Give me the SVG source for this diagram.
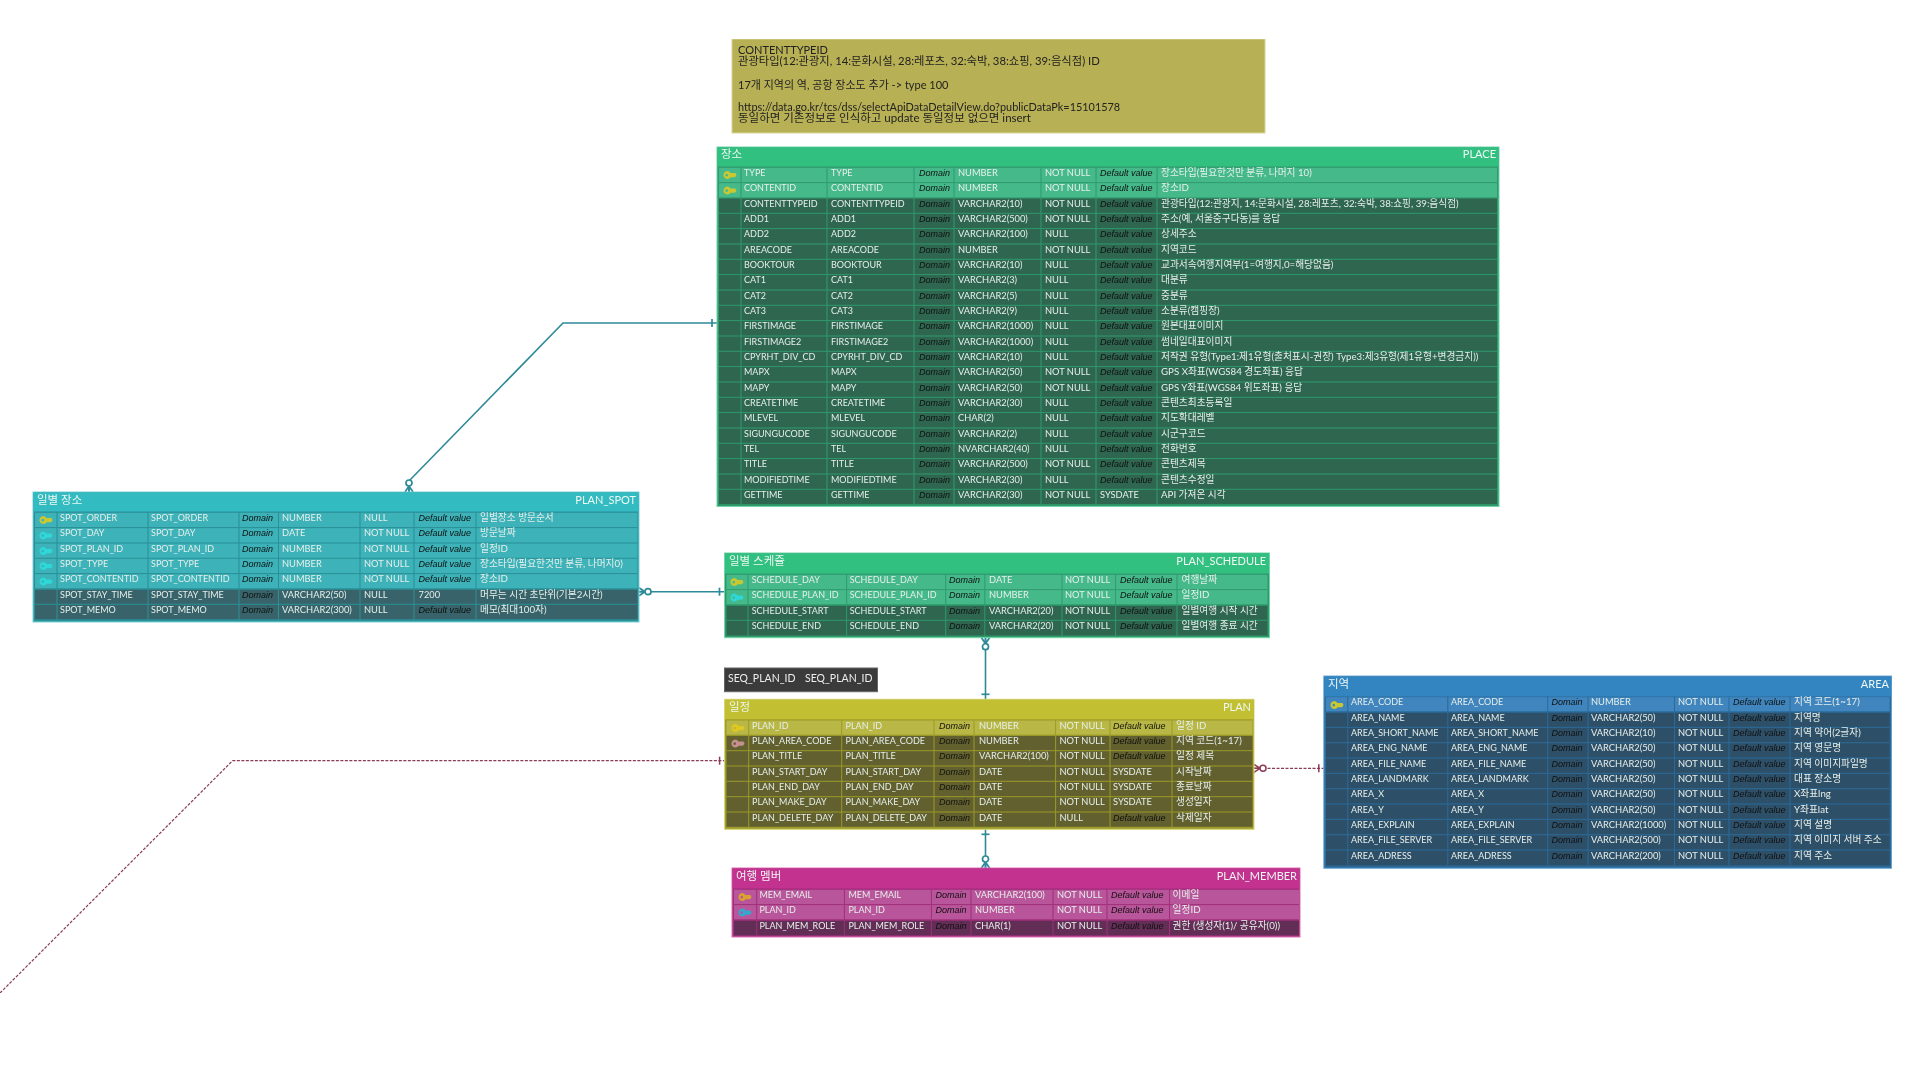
<svg xmlns="http://www.w3.org/2000/svg" xmlns:xlink="http://www.w3.org/1999/xlink" width="1920" height="1080" viewBox="0 0 1920 1080">
<style>
text{font-family:Lato,"Noto Sans CJK KR",sans-serif;font-size:9.300px;fill:#e6efeb}
g[transform]>text:nth-child(-n+2){font-size:9px}
g[transform]>text:nth-child(7){font-size:9.700px}
text.d{font-style:italic;font-size:9px;fill:#111;font-family:"Liberation Sans","Noto Sans CJK KR",sans-serif}
text.h{font-size:11.500px;fill:#eef7f3}
text.h.e{text-anchor:end;font-size:11px}
text.note{font-size:11px;fill:#222}
text.n2{font-size:11.300px}
text.n3{font-size:10.900px}
text.n4{font-size:11.500px}
text.seq{font-size:10.500px;fill:#eee}
.tg .b{fill:#2f9a6c;stroke:#72d6a8;stroke-width:1}.tg .hd{fill:#33c081}.tg .p{fill:#45b98a}.tg .x{fill:#2f6650}.tg .s{stroke:#2f9a6c}
.tc .b{fill:#2a8f96;stroke:#7ad6da;stroke-width:1}.tc .hd{fill:#33bcc1}.tc .p{fill:#3cb2b8}.tc .x{fill:#37646a}.tc .s{stroke:#2a8f96}
.ty .b{fill:#9b9a2a;stroke:#d8d670;stroke-width:1}.ty .hd{fill:#c2c032}.ty .p{fill:#b9b846}.ty .x{fill:#62612f}.ty .s{stroke:#9b9a2a}
.tm .b{fill:#a02f7a;stroke:#e070b8;stroke-width:1}.tm .hd{fill:#c2308e}.tm .p{fill:#b9559a}.tm .x{fill:#622f56}.tm .s{stroke:#a02f7a}
.tb .b{fill:#2a6a9a;stroke:#70acd8;stroke-width:1}.tb .hd{fill:#3385c1}.tb .p{fill:#3f85bd}.tb .x{fill:#2f5068}.tb .s{stroke:#2a6a9a}
.s{fill:none;stroke-width:1}
.ky{fill:#c8c832}.kc{fill:#2fd8d8}.kp{fill:#c49090}.ko{fill:#d9a030}.kl{fill:#35a8d0}.kg{fill:#e0c820}
.c{fill:none;stroke-width:1.600}.teal{stroke:#2f8a98}.mar{stroke:#8a3a55;stroke-width:1.200;stroke-dasharray:3 1.500}
</style>
<defs>
<filter id="soft" x="0" y="0" width="100%" height="100%" filterUnits="objectBoundingBox"><feGaussianBlur stdDeviation="0.500"/></filter>
<g id="k"><path fill-rule="evenodd" d="M4 0a4 4 0 0 1 3.500 2H12.500L13.500 4.300 12 6.300H7.700A4 4 0 1 1 4 0zM3.700 2.800a1.300 1.300 0 1 0 .01 0z"/></g>
<marker id="mt" markerUnits="userSpaceOnUse" markerWidth="20" markerHeight="14" refX="0" refY="7" orient="auto" overflow="visible"><path d="M0 3L6 7L0 11M0 7H6" fill="none" stroke="#2f8a98" stroke-width="1.700"/><circle cx="9" cy="7" r="3" fill="#fff" stroke="#2f8a98" stroke-width="1.700"/></marker>
<marker id="bt" markerUnits="userSpaceOnUse" markerWidth="14" markerHeight="14" refX="10" refY="7" orient="auto" overflow="visible"><path d="M5 3V11" fill="none" stroke="#2f8a98" stroke-width="1.700"/></marker>
<marker id="mm" markerUnits="userSpaceOnUse" markerWidth="20" markerHeight="14" refX="0" refY="7" orient="auto" overflow="visible"><path d="M0 3L6 7L0 11M0 7H6" fill="none" stroke="#8a3a55" stroke-width="1.500"/><circle cx="9" cy="7" r="3" fill="#fff" stroke="#8a3a55" stroke-width="1.500"/></marker>
<marker id="bm" markerUnits="userSpaceOnUse" markerWidth="14" markerHeight="14" refX="10" refY="7" orient="auto" overflow="visible"><path d="M5 3V11" fill="none" stroke="#8a3a55" stroke-width="1.500"/></marker>
</defs>
<rect width="1920" height="1080" fill="#fff"/>
<g filter="url(#soft)">
<g id="connectors">
<path class="c teal" d="M409 492V481L563 323H717" marker-start="url(#mt)" marker-end="url(#bt)"/>
<path class="c teal" d="M639 591.700H724.500" marker-start="url(#mt)" marker-end="url(#bt)"/>
<path class="c teal" d="M985.500 637.700V699.300" marker-start="url(#mt)" marker-end="url(#bt)"/>
<path class="c teal" d="M985.500 868V829.300" marker-start="url(#mt)" marker-end="url(#bt)"/>
<path class="c mar" d="M1254 768.300H1323.800" marker-start="url(#mm)" marker-end="url(#bm)"/>
<path class="c mar" d="M0 993L232.600 760.700H724.600" marker-end="url(#bm)"/>
</g>
<g id="note">
<rect x="732" y="39" width="533" height="94" fill="#b8b055" stroke="#d8d49a" stroke-width="1"/>
<text class="note" x="738" y="54">CONTENTTYPEID</text>
<text class="note n2" x="738" y="65">관광타입(12:관광지, 14:문화시설, 28:레포츠, 32:숙박, 38:쇼핑, 39:음식점) ID</text>
<text class="note" x="738" y="89">17개 지역의 역, 공항 장소도 추가 -> type 100</text>
<text class="note n3" x="738" y="111">https://data.go.kr/tcs/dss/selectApiDataDetailView.do?publicDataPk=15101578</text>
<text class="note n4" x="738" y="122">동일하면 기존정보로 인식하고 update 동일정보 없으면 insert</text>
</g>
<g id="PLACE" class="tg">
<rect class="b" x="717" y="147" width="782" height="359.500"/><rect class="hd" x="717.500" y="147.500" width="781" height="19"/>
<text class="h" x="721" y="158">장소</text><text class="h e" x="1496" y="158">PLACE</text>
<g><rect class="p" x="719" y="167.800" width="778" height="14.300"/><rect class="p" x="719" y="183.100" width="778" height="14.300"/>
<rect class="x" x="719" y="198.500" width="778" height="305.600"/></g>
<path class="s" d="M719 213.300H1497M719 228.600H1497M719 244H1497M719 259.300H1497M719 274.600H1497M719 290H1497M719 305.300H1497M719 320.600H1497M719 336H1497M719 351.300H1497M719 366.600H1497M719 382H1497M719 397.300H1497M719 412.600H1497M719 428H1497M719 443.300H1497M719 458.600H1497M719 474H1497M719 489.300H1497M741 167V504M827 167V504M914 167V504M954 167V504M1041 167V504M1096 167V504M1157 167V504"/>
<use xlink:href="#k" href="#k" class="ky" x="723" y="171"/><use xlink:href="#k" href="#k" class="ky" x="723" y="186.500"/>
<g transform="translate(0,175.800)"><text x="744">TYPE</text><text x="831">TYPE</text><text class="d" x="919">Domain</text><text x="958">NUMBER</text><text x="1045">NOT NULL</text><text class="d" x="1100">Default value</text><text x="1161">장소타입(필요한것만 분류, 나머지 10)</text></g>
<g transform="translate(0,191.100)"><text x="744">CONTENTID</text><text x="831">CONTENTID</text><text class="d" x="919">Domain</text><text x="958">NUMBER</text><text x="1045">NOT NULL</text><text class="d" x="1100">Default value</text><text x="1161">장소ID</text></g>
<g transform="translate(0,206.500)"><text x="744">CONTENTTYPEID</text><text x="831">CONTENTTYPEID</text><text class="d" x="919">Domain</text><text x="958">VARCHAR2(10)</text><text x="1045">NOT NULL</text><text class="d" x="1100">Default value</text><text x="1161">관광타입(12:관광지, 14:문화시설, 28:레포츠, 32:숙박, 38:쇼핑, 39:음식점)</text></g>
<g transform="translate(0,221.800)"><text x="744">ADD1</text><text x="831">ADD1</text><text class="d" x="919">Domain</text><text x="958">VARCHAR2(500)</text><text x="1045">NOT NULL</text><text class="d" x="1100">Default value</text><text x="1161">주소(예, 서울중구다동)를 응답</text></g>
<g transform="translate(0,237.100)"><text x="744">ADD2</text><text x="831">ADD2</text><text class="d" x="919">Domain</text><text x="958">VARCHAR2(100)</text><text x="1045">NULL</text><text class="d" x="1100">Default value</text><text x="1161">상세주소</text></g>
<g transform="translate(0,252.500)"><text x="744">AREACODE</text><text x="831">AREACODE</text><text class="d" x="919">Domain</text><text x="958">NUMBER</text><text x="1045">NOT NULL</text><text class="d" x="1100">Default value</text><text x="1161">지역코드</text></g>
<g transform="translate(0,267.800)"><text x="744">BOOKTOUR</text><text x="831">BOOKTOUR</text><text class="d" x="919">Domain</text><text x="958">VARCHAR2(10)</text><text x="1045">NULL</text><text class="d" x="1100">Default value</text><text x="1161">교과서속여행지여부(1=여행지,0=해당없음)</text></g>
<g transform="translate(0,283.100)"><text x="744">CAT1</text><text x="831">CAT1</text><text class="d" x="919">Domain</text><text x="958">VARCHAR2(3)</text><text x="1045">NULL</text><text class="d" x="1100">Default value</text><text x="1161">대분류</text></g>
<g transform="translate(0,298.500)"><text x="744">CAT2</text><text x="831">CAT2</text><text class="d" x="919">Domain</text><text x="958">VARCHAR2(5)</text><text x="1045">NULL</text><text class="d" x="1100">Default value</text><text x="1161">중분류</text></g>
<g transform="translate(0,313.800)"><text x="744">CAT3</text><text x="831">CAT3</text><text class="d" x="919">Domain</text><text x="958">VARCHAR2(9)</text><text x="1045">NULL</text><text class="d" x="1100">Default value</text><text x="1161">소분류(캠핑장)</text></g>
<g transform="translate(0,329.100)"><text x="744">FIRSTIMAGE</text><text x="831">FIRSTIMAGE</text><text class="d" x="919">Domain</text><text x="958">VARCHAR2(1000)</text><text x="1045">NULL</text><text class="d" x="1100">Default value</text><text x="1161">원본대표이미지</text></g>
<g transform="translate(0,344.500)"><text x="744">FIRSTIMAGE2</text><text x="831">FIRSTIMAGE2</text><text class="d" x="919">Domain</text><text x="958">VARCHAR2(1000)</text><text x="1045">NULL</text><text class="d" x="1100">Default value</text><text x="1161">썸네일대표이미지</text></g>
<g transform="translate(0,359.800)"><text x="744">CPYRHT_DIV_CD</text><text x="831">CPYRHT_DIV_CD</text><text class="d" x="919">Domain</text><text x="958">VARCHAR2(10)</text><text x="1045">NULL</text><text class="d" x="1100">Default value</text><text x="1161">저작권 유형(Type1:제1유형(출처표시-권장) Type3:제3유형(제1유형+변경금지))</text></g>
<g transform="translate(0,375.100)"><text x="744">MAPX</text><text x="831">MAPX</text><text class="d" x="919">Domain</text><text x="958">VARCHAR2(50)</text><text x="1045">NOT NULL</text><text class="d" x="1100">Default value</text><text x="1161">GPS X좌표(WGS84 경도좌표) 응답</text></g>
<g transform="translate(0,390.500)"><text x="744">MAPY</text><text x="831">MAPY</text><text class="d" x="919">Domain</text><text x="958">VARCHAR2(50)</text><text x="1045">NOT NULL</text><text class="d" x="1100">Default value</text><text x="1161">GPS Y좌표(WGS84 위도좌표) 응답</text></g>
<g transform="translate(0,405.800)"><text x="744">CREATETIME</text><text x="831">CREATETIME</text><text class="d" x="919">Domain</text><text x="958">VARCHAR2(30)</text><text x="1045">NULL</text><text class="d" x="1100">Default value</text><text x="1161">콘텐츠최초등록일</text></g>
<g transform="translate(0,421.100)"><text x="744">MLEVEL</text><text x="831">MLEVEL</text><text class="d" x="919">Domain</text><text x="958">CHAR(2)</text><text x="1045">NULL</text><text class="d" x="1100">Default value</text><text x="1161">지도확대레벨</text></g>
<g transform="translate(0,436.500)"><text x="744">SIGUNGUCODE</text><text x="831">SIGUNGUCODE</text><text class="d" x="919">Domain</text><text x="958">VARCHAR2(2)</text><text x="1045">NULL</text><text class="d" x="1100">Default value</text><text x="1161">시군구코드</text></g>
<g transform="translate(0,451.800)"><text x="744">TEL</text><text x="831">TEL</text><text class="d" x="919">Domain</text><text x="958">NVARCHAR2(40)</text><text x="1045">NULL</text><text class="d" x="1100">Default value</text><text x="1161">전화번호</text></g>
<g transform="translate(0,467.100)"><text x="744">TITLE</text><text x="831">TITLE</text><text class="d" x="919">Domain</text><text x="958">VARCHAR2(500)</text><text x="1045">NOT NULL</text><text class="d" x="1100">Default value</text><text x="1161">콘텐츠제목</text></g>
<g transform="translate(0,482.500)"><text x="744">MODIFIEDTIME</text><text x="831">MODIFIEDTIME</text><text class="d" x="919">Domain</text><text x="958">VARCHAR2(30)</text><text x="1045">NULL</text><text class="d" x="1100">Default value</text><text x="1161">콘텐츠수정일</text></g>
<g transform="translate(0,497.800)"><text x="744">GETTIME</text><text x="831">GETTIME</text><text class="d" x="919">Domain</text><text x="958">VARCHAR2(30)</text><text x="1045">NOT NULL</text><text x="1100">SYSDATE</text><text x="1161">API 가져온 시각</text></g>
</g>
<g id="PLAN_SPOT" class="tc">
<rect class="b" x="33" y="492" width="606" height="130"/><rect class="hd" x="33.500" y="492.500" width="605" height="19"/>
<text class="h" x="37" y="504">일별 장소</text><text class="h e" x="636" y="504">PLAN_SPOT</text>
<rect class="p" x="35" y="512.800" width="602.500" height="75.700"/><rect class="x" x="35" y="589.500" width="602.500" height="29.700"/>
<path class="s" d="M35 527.600H637.500M35 543H637.500M35 558.300H637.500M35 573.600H637.500M35 589H637.500M35 604.300H637.500M57 512V620M148 512V620M239 512V620M278.500 512V620M360 512V620M414 512V620M476 512V620"/>
<use xlink:href="#k" href="#k" class="ky" x="39" y="516"/><use xlink:href="#k" href="#k" class="kc" x="39" y="531.500"/><use xlink:href="#k" href="#k" class="kc" x="39" y="547"/><use xlink:href="#k" href="#k" class="kc" x="39" y="562"/><use xlink:href="#k" href="#k" class="kc" x="39" y="577.500"/>
<g transform="translate(0,520.800)"><text x="60">SPOT_ORDER</text><text x="151">SPOT_ORDER</text><text class="d" x="242">Domain</text><text x="282">NUMBER</text><text x="364">NULL</text><text class="d" x="418.500">Default value</text><text x="480">일별장소 방문순서</text></g>
<g transform="translate(0,536.100)"><text x="60">SPOT_DAY</text><text x="151">SPOT_DAY</text><text class="d" x="242">Domain</text><text x="282">DATE</text><text x="364">NOT NULL</text><text class="d" x="418.500">Default value</text><text x="480">방문날짜</text></g>
<g transform="translate(0,551.500)"><text x="60">SPOT_PLAN_ID</text><text x="151">SPOT_PLAN_ID</text><text class="d" x="242">Domain</text><text x="282">NUMBER</text><text x="364">NOT NULL</text><text class="d" x="418.500">Default value</text><text x="480">일정ID</text></g>
<g transform="translate(0,566.800)"><text x="60">SPOT_TYPE</text><text x="151">SPOT_TYPE</text><text class="d" x="242">Domain</text><text x="282">NUMBER</text><text x="364">NOT NULL</text><text class="d" x="418.500">Default value</text><text x="480">장소타입(필요한것만 분류, 나머지0)</text></g>
<g transform="translate(0,582.100)"><text x="60">SPOT_CONTENTID</text><text x="151">SPOT_CONTENTID</text><text class="d" x="242">Domain</text><text x="282">NUMBER</text><text x="364">NOT NULL</text><text class="d" x="418.500">Default value</text><text x="480">장소ID</text></g>
<g transform="translate(0,597.500)"><text x="60">SPOT_STAY_TIME</text><text x="151">SPOT_STAY_TIME</text><text class="d" x="242">Domain</text><text x="282">VARCHAR2(50)</text><text x="364">NULL</text><text x="418.500">7200</text><text x="480">머무는 시간 초단위(기본2시간)</text></g>
<g transform="translate(0,612.800)"><text x="60">SPOT_MEMO</text><text x="151">SPOT_MEMO</text><text class="d" x="242">Domain</text><text x="282">VARCHAR2(300)</text><text x="364">NULL</text><text class="d" x="418.500">Default value</text><text x="480">메모(최대100자)</text></g>
</g>
<g id="PLAN_SCHEDULE" class="tg">
<rect class="b" x="724.500" y="553" width="545" height="84.700"/><rect class="hd" x="725" y="553.500" width="544" height="20"/>
<text class="h" x="729" y="565">일별 스케쥴</text><text class="h e" x="1266" y="565">PLAN_SCHEDULE</text>
<rect class="p" x="726.500" y="574.800" width="541" height="29.700"/><rect class="x" x="726.500" y="605.500" width="541" height="30"/>
<path class="s" d="M726.500 589.600H1267.500M726.500 605H1267.500M726.500 620.300H1267.500M748 574V636M846.600 574V636M945.700 574V636M984.800 574V636M1062 574V636M1115.600 574V636M1177 574V636"/>
<use xlink:href="#k" href="#k" class="ky" x="730" y="578"/><use xlink:href="#k" href="#k" class="kc" x="730" y="593.500"/>
<g transform="translate(0,582.800)"><text x="751.700">SCHEDULE_DAY</text><text x="849.700">SCHEDULE_DAY</text><text class="d" x="949">Domain</text><text x="989">DATE</text><text x="1065">NOT NULL</text><text class="d" x="1120">Default value</text><text x="1181.500">여행날짜</text></g>
<g transform="translate(0,598.100)"><text x="751.700">SCHEDULE_PLAN_ID</text><text x="849.700">SCHEDULE_PLAN_ID</text><text class="d" x="949">Domain</text><text x="989">NUMBER</text><text x="1065">NOT NULL</text><text class="d" x="1120">Default value</text><text x="1181.500">일정ID</text></g>
<g transform="translate(0,613.500)"><text x="751.700">SCHEDULE_START</text><text x="849.700">SCHEDULE_START</text><text class="d" x="949">Domain</text><text x="989">VARCHAR2(20)</text><text x="1065">NOT NULL</text><text class="d" x="1120">Default value</text><text x="1181.500">일별여행 시작 시간</text></g>
<g transform="translate(0,628.800)"><text x="751.700">SCHEDULE_END</text><text x="849.700">SCHEDULE_END</text><text class="d" x="949">Domain</text><text x="989">VARCHAR2(20)</text><text x="1065">NOT NULL</text><text class="d" x="1120">Default value</text><text x="1181.500">일별여행 종료 시간</text></g>
</g>
<g id="SEQ_PLAN_ID">
<rect x="724.500" y="668" width="153" height="23.700" fill="#3a3a3a" stroke="#666" stroke-width="1"/>
<text class="seq" x="728" y="682">SEQ_PLAN_ID</text><text class="seq" x="805" y="682">SEQ_PLAN_ID</text>
</g>
<g id="PLAN" class="ty">
<rect class="b" x="724.600" y="699.300" width="529.400" height="130"/><rect class="hd" x="725" y="699.800" width="528.500" height="19.500"/>
<text class="h" x="729" y="711">일정</text><text class="h e" x="1251" y="711">PLAN</text>
<rect class="p" x="726.500" y="720.500" width="526" height="14.300"/><rect class="x" x="726.500" y="735.800" width="526" height="91"/>
<path class="s" d="M726.500 735.300H1252.500M726.500 750.700H1252.500M726.500 766H1252.500M726.500 781.300H1252.500M726.500 796.700H1252.500M726.500 812H1252.500M748.700 720V827M841.700 720V827M934 720V827M974 720V827M1055.600 720V827M1110 720V827M1172 720V827"/>
<use xlink:href="#k" href="#k" class="kg" x="731" y="724"/><use xlink:href="#k" href="#k" class="kp" x="731" y="739.500"/>
<g transform="translate(0,728.500)"><text x="752">PLAN_ID</text><text x="845.600">PLAN_ID</text><text class="d" x="939">Domain</text><text x="979">NUMBER</text><text x="1059.500">NOT NULL</text><text class="d" x="1113">Default value</text><text x="1176">일정 ID</text></g>
<g transform="translate(0,743.800)"><text x="752">PLAN_AREA_CODE</text><text x="845.600">PLAN_AREA_CODE</text><text class="d" x="939">Domain</text><text x="979">NUMBER</text><text x="1059.500">NOT NULL</text><text class="d" x="1113">Default value</text><text x="1176">지역 코드(1~17)</text></g>
<g transform="translate(0,759.200)"><text x="752">PLAN_TITLE</text><text x="845.600">PLAN_TITLE</text><text class="d" x="939">Domain</text><text x="979">VARCHAR2(100)</text><text x="1059.500">NOT NULL</text><text class="d" x="1113">Default value</text><text x="1176">일정 제목</text></g>
<g transform="translate(0,774.500)"><text x="752">PLAN_START_DAY</text><text x="845.600">PLAN_START_DAY</text><text class="d" x="939">Domain</text><text x="979">DATE</text><text x="1059.500">NOT NULL</text><text x="1113">SYSDATE</text><text x="1176">시작날짜</text></g>
<g transform="translate(0,789.800)"><text x="752">PLAN_END_DAY</text><text x="845.600">PLAN_END_DAY</text><text class="d" x="939">Domain</text><text x="979">DATE</text><text x="1059.500">NOT NULL</text><text x="1113">SYSDATE</text><text x="1176">종료날짜</text></g>
<g transform="translate(0,805.200)"><text x="752">PLAN_MAKE_DAY</text><text x="845.600">PLAN_MAKE_DAY</text><text class="d" x="939">Domain</text><text x="979">DATE</text><text x="1059.500">NOT NULL</text><text x="1113">SYSDATE</text><text x="1176">생성일자</text></g>
<g transform="translate(0,820.500)"><text x="752">PLAN_DELETE_DAY</text><text x="845.600">PLAN_DELETE_DAY</text><text class="d" x="939">Domain</text><text x="979">DATE</text><text x="1059.500">NULL</text><text class="d" x="1113">Default value</text><text x="1176">삭제일자</text></g>
</g>
<g id="PLAN_MEMBER" class="tm">
<rect class="b" x="732" y="868" width="568" height="69"/><rect class="hd" x="732.500" y="868.500" width="567" height="20"/>
<text class="h" x="736" y="880">여행 멤버</text><text class="h e" x="1297" y="880">PLAN_MEMBER</text>
<rect class="p" x="734" y="889.800" width="565" height="29.700"/><rect class="x" x="734" y="920.500" width="565" height="14.800"/>
<path class="s" d="M734 904.600H1299M734 920H1299M756.700 889V935.500M844.400 889V935.500M931.400 889V935.500M971 889V935.500M1053 889V935.500M1107 889V935.500M1169.500 889V935.500"/>
<use xlink:href="#k" href="#k" class="ko" x="738" y="893"/><use xlink:href="#k" href="#k" class="kl" x="738" y="908.500"/>
<g transform="translate(0,897.800)"><text x="759.400">MEM_EMAIL</text><text x="848.400">MEM_EMAIL</text><text class="d" x="935.400">Domain</text><text x="975">VARCHAR2(100)</text><text x="1057">NOT NULL</text><text class="d" x="1111">Default value</text><text x="1172.600">이메일</text></g>
<g transform="translate(0,913.100)"><text x="759.400">PLAN_ID</text><text x="848.400">PLAN_ID</text><text class="d" x="935.400">Domain</text><text x="975">NUMBER</text><text x="1057">NOT NULL</text><text class="d" x="1111">Default value</text><text x="1172.600">일정ID</text></g>
<g transform="translate(0,928.500)"><text x="759.400">PLAN_MEM_ROLE</text><text x="848.400">PLAN_MEM_ROLE</text><text class="d" x="935.400">Domain</text><text x="975">CHAR(1)</text><text x="1057">NOT NULL</text><text class="d" x="1111">Default value</text><text x="1172.600">권한 (생성자(1)/ 공유자(0))</text></g>
</g>
<g id="AREA" class="tb">
<rect class="b" x="1323.800" y="676" width="568" height="192.300"/><rect class="hd" x="1324.300" y="676.500" width="567" height="20"/>
<text class="h" x="1328" y="688">지역</text><text class="h e" x="1889" y="688">AREA</text>
<rect class="p" x="1326" y="697.200" width="563.700" height="14.300"/><rect class="x" x="1326" y="712.500" width="563.700" height="153"/>
<path class="s" d="M1326 712H1889.700M1326 727.400H1889.700M1326 742.700H1889.700M1326 758H1889.700M1326 773.400H1889.700M1326 788.700H1889.700M1326 804H1889.700M1326 819.400H1889.700M1326 834.700H1889.700M1326 850H1889.700M1347.800 696.500V865.500M1447.800 696.500V865.500M1547.700 696.500V865.500M1588 696.500V865.500M1674.500 696.500V865.500M1729 696.500V865.500M1790 696.500V865.500"/>
<use xlink:href="#k" href="#k" class="ky" x="1330" y="701"/>
<g transform="translate(0,705.200)"><text x="1351">AREA_CODE</text><text x="1451">AREA_CODE</text><text class="d" x="1551.400">Domain</text><text x="1591">NUMBER</text><text x="1678">NOT NULL</text><text class="d" x="1733">Default value</text><text x="1794">지역 코드(1~17)</text></g>
<g transform="translate(0,720.500)"><text x="1351">AREA_NAME</text><text x="1451">AREA_NAME</text><text class="d" x="1551.400">Domain</text><text x="1591">VARCHAR2(50)</text><text x="1678">NOT NULL</text><text class="d" x="1733">Default value</text><text x="1794">지역명</text></g>
<g transform="translate(0,735.900)"><text x="1351">AREA_SHORT_NAME</text><text x="1451">AREA_SHORT_NAME</text><text class="d" x="1551.400">Domain</text><text x="1591">VARCHAR2(10)</text><text x="1678">NOT NULL</text><text class="d" x="1733">Default value</text><text x="1794">지역 약어(2글자)</text></g>
<g transform="translate(0,751.200)"><text x="1351">AREA_ENG_NAME</text><text x="1451">AREA_ENG_NAME</text><text class="d" x="1551.400">Domain</text><text x="1591">VARCHAR2(50)</text><text x="1678">NOT NULL</text><text class="d" x="1733">Default value</text><text x="1794">지역 영문명</text></g>
<g transform="translate(0,766.500)"><text x="1351">AREA_FILE_NAME</text><text x="1451">AREA_FILE_NAME</text><text class="d" x="1551.400">Domain</text><text x="1591">VARCHAR2(50)</text><text x="1678">NOT NULL</text><text class="d" x="1733">Default value</text><text x="1794">지역 이미지파일명</text></g>
<g transform="translate(0,781.900)"><text x="1351">AREA_LANDMARK</text><text x="1451">AREA_LANDMARK</text><text class="d" x="1551.400">Domain</text><text x="1591">VARCHAR2(50)</text><text x="1678">NOT NULL</text><text class="d" x="1733">Default value</text><text x="1794">대표 장소명</text></g>
<g transform="translate(0,797.200)"><text x="1351">AREA_X</text><text x="1451">AREA_X</text><text class="d" x="1551.400">Domain</text><text x="1591">VARCHAR2(50)</text><text x="1678">NOT NULL</text><text class="d" x="1733">Default value</text><text x="1794">X좌표lng</text></g>
<g transform="translate(0,812.500)"><text x="1351">AREA_Y</text><text x="1451">AREA_Y</text><text class="d" x="1551.400">Domain</text><text x="1591">VARCHAR2(50)</text><text x="1678">NOT NULL</text><text class="d" x="1733">Default value</text><text x="1794">Y좌표lat</text></g>
<g transform="translate(0,827.900)"><text x="1351">AREA_EXPLAIN</text><text x="1451">AREA_EXPLAIN</text><text class="d" x="1551.400">Domain</text><text x="1591">VARCHAR2(1000)</text><text x="1678">NOT NULL</text><text class="d" x="1733">Default value</text><text x="1794">지역 설명</text></g>
<g transform="translate(0,843.200)"><text x="1351">AREA_FILE_SERVER</text><text x="1451">AREA_FILE_SERVER</text><text class="d" x="1551.400">Domain</text><text x="1591">VARCHAR2(500)</text><text x="1678">NOT NULL</text><text class="d" x="1733">Default value</text><text x="1794">지역 이미지 서버 주소</text></g>
<g transform="translate(0,858.500)"><text x="1351">AREA_ADRESS</text><text x="1451">AREA_ADRESS</text><text class="d" x="1551.400">Domain</text><text x="1591">VARCHAR2(200)</text><text x="1678">NOT NULL</text><text class="d" x="1733">Default value</text><text x="1794">지역 주소</text></g>
</g>
</g>
</svg>
